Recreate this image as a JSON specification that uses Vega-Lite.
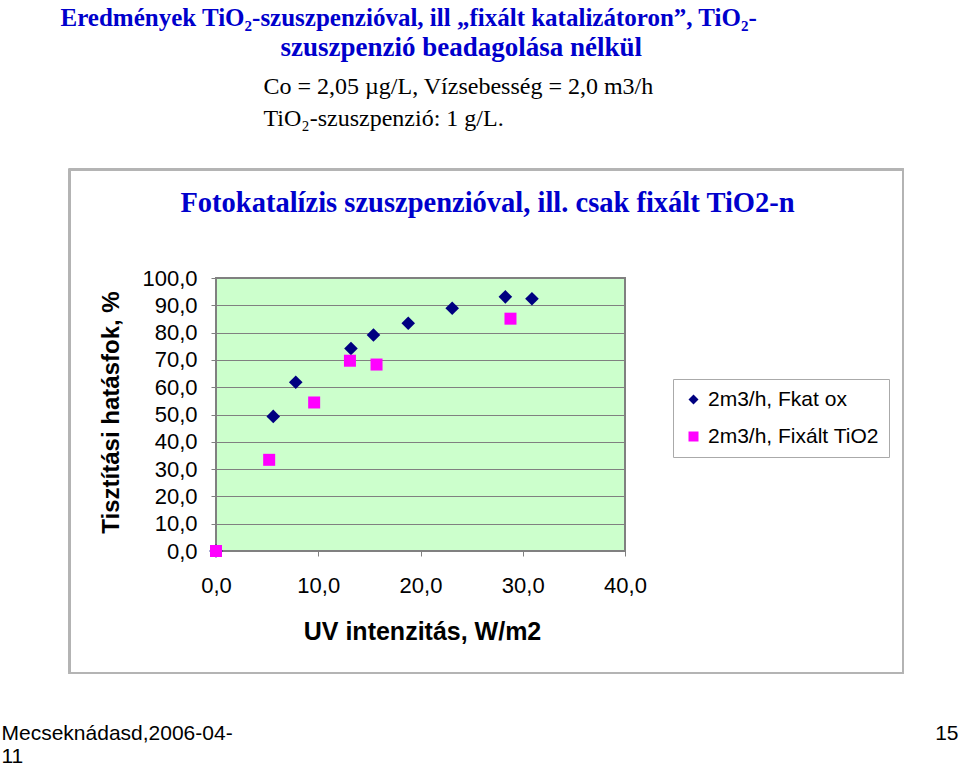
{
  "$schema": "https://vega.github.io/schema/vega-lite/v6.json",
  "autosize": {"type": "none"},
  "padding": {"left": 216, "top": 278, "right": 334, "bottom": 214},
  "width": 409,
  "height": 273,
  "background": "white",
  "view": {"fill": "#CCFFCC", "stroke": null},
  "data": {
    "values": [
      {"series": "2m3/h, Fkat ox", "uv": 0, "eff": 0},
      {"series": "2m3/h, Fkat ox", "uv": 5.6, "eff": 49.3},
      {"series": "2m3/h, Fkat ox", "uv": 7.8, "eff": 61.8},
      {"series": "2m3/h, Fkat ox", "uv": 13.2, "eff": 74.2},
      {"series": "2m3/h, Fkat ox", "uv": 15.4, "eff": 79.1},
      {"series": "2m3/h, Fkat ox", "uv": 18.8, "eff": 83.4},
      {"series": "2m3/h, Fkat ox", "uv": 23.1, "eff": 88.9},
      {"series": "2m3/h, Fkat ox", "uv": 28.3, "eff": 93.1},
      {"series": "2m3/h, Fkat ox", "uv": 30.9, "eff": 92.4},
      {"series": "2m3/h, Fixált TiO2", "uv": 0, "eff": 0},
      {"series": "2m3/h, Fixált TiO2", "uv": 5.2, "eff": 33.4},
      {"series": "2m3/h, Fixált TiO2", "uv": 9.6, "eff": 54.4},
      {"series": "2m3/h, Fixált TiO2", "uv": 13.1, "eff": 69.7},
      {"series": "2m3/h, Fixált TiO2", "uv": 15.7, "eff": 68.3},
      {"series": "2m3/h, Fixált TiO2", "uv": 28.8, "eff": 85.1}
    ]
  },
  "resolve": {"axis": {"x": "independent", "y": "independent"}},
  "layer": [
    {
      "mark": {"type": "rect", "filled": false, "stroke": "#b4b4b4", "strokeWidth": 1.5},
      "encoding": {
        "x": {"datum": -14.33, "type": "quantitative", "scale": {"domain": [0, 40], "nice": false, "zero": false},
          "axis": {"orient": "top", "title": "Eredmények TiO₂-szuszpenzióval, ill „fixált katalizátoron”, TiO₂-",
            "titleX": -156, "titleY": -253, "titleAlign": "left", "titleBaseline": "alphabetic", "titleAngle": 0,
            "titleFont": "Liberation Serif", "titleFontSize": 25, "titleFontWeight": "bold", "titleColor": "#0000CC"}},
        "x2": {"datum": 67.19},
        "y": {"datum": 139.74, "type": "quantitative", "scale": {"domain": [0, 100], "nice": false, "zero": false},
          "axis": {"orient": "left", "title": "szuszpenzió beadagolása nélkül",
            "titleX": 64, "titleY": -223, "titleAlign": "left", "titleBaseline": "alphabetic", "titleAngle": 0,
            "titleFont": "Liberation Serif", "titleFontSize": 27, "titleFontWeight": "bold", "titleColor": "#0000CC"}},
        "y2": {"datum": -44.69}
      }
    },
    {
      "mark": {"type": "rect", "filled": false, "stroke": "#808080", "strokeWidth": 2},
      "encoding": {
        "x": {"datum": 0, "type": "quantitative", "scale": {"domain": [0, 40], "nice": false, "zero": false},
          "axis": {"orient": "top", "title": ["Co = 2,05 µg/L, Vízsebesség = 2,0 m3/h", "TiO₂-szuszpenzió: 1 g/L."],
            "titleX": 47, "titleY": -185, "titleAlign": "left", "titleBaseline": "alphabetic", "titleAngle": 0, "titleLineHeight": 32,
            "titleFont": "Liberation Serif", "titleFontSize": 24, "titleFontWeight": "normal", "titleColor": "black"}},
        "x2": {"datum": 40},
        "y": {"datum": 0, "type": "quantitative", "scale": {"domain": [0, 100], "nice": false, "zero": false},
          "axis": {"orient": "right", "title": "15",
            "titleX": 333, "titleY": 461, "titleAlign": "right", "titleBaseline": "alphabetic", "titleAngle": 0,
            "titleFont": "Liberation Sans", "titleFontSize": 21, "titleFontWeight": "normal", "titleColor": "black"}},
        "y2": {"datum": 100}
      }
    },
    {
      "transform": [{"filter": "datum.series === '2m3/h, Fkat ox'"}],
      "mark": {"type": "point", "filled": true, "opacity": 1, "size": 185},
      "encoding": {
        "x": {"field": "uv", "type": "quantitative", "scale": {"domain": [0, 40], "nice": false, "zero": false},
          "axis": {"orient": "bottom", "values": [0, 10, 20, 30, 40], "labels": true, "ticks": true, "tickSize": 5, "tickColor": "#808080",
            "labelExpr": "replace(format(datum.value, '.1f'), '.', ',')", "labelFont": "Liberation Sans", "labelFontSize": 22, "labelColor": "black",
            "labelPadding": 19, "labelFlush": false, "labelOverlap": false,
            "title": "UV intenzitás, W/m2", "titleX": 206, "titleY": 88, "titleAlign": "center", "titleBaseline": "alphabetic", "titleAngle": 0,
            "titleFont": "Liberation Sans", "titleFontSize": 25, "titleFontWeight": "bold", "titleColor": "black"}},
        "y": {"field": "eff", "type": "quantitative", "scale": {"domain": [0, 100], "nice": false, "zero": false},
          "axis": {"orient": "left", "values": [0, 10, 20, 30, 40, 50, 60, 70, 80, 90, 100], "labels": true, "ticks": true, "tickSize": 5, "tickColor": "#808080",
            "grid": true, "gridColor": "#808080", "gridWidth": 1,
            "labelExpr": "replace(format(datum.value, '.1f'), '.', ',')", "labelFont": "Liberation Sans", "labelFontSize": 22, "labelColor": "black",
            "labelPadding": 14, "labelOverlap": false,
            "title": "Tisztítási hatásfok, %", "titleX": -98, "titleY": 134, "titleAlign": "center", "titleBaseline": "alphabetic", "titleAngle": -90,
            "titleFont": "Liberation Sans", "titleFontSize": 24, "titleFontWeight": "bold", "titleColor": "black"}},
        "color": {"field": "series", "type": "nominal", "scale": {"domain": ["2m3/h, Fkat ox", "2m3/h, Fixált TiO2"], "range": ["#000080", "#FF00FF"]}, "legend": {"title": null}},
        "shape": {"field": "series", "type": "nominal", "scale": {"domain": ["2m3/h, Fkat ox", "2m3/h, Fixált TiO2"], "range": ["diamond", "square"]}, "legend": {"title": null}}
      }
    },
    {
      "transform": [{"filter": "datum.series === '2m3/h, Fixált TiO2'"}],
      "mark": {"type": "point", "filled": true, "opacity": 1, "size": 144},
      "encoding": {
        "x": {"field": "uv", "type": "quantitative", "scale": {"domain": [0, 40], "nice": false, "zero": false},
          "axis": {"orient": "top", "title": "Fotokatalízis szuszpenzióval, ill. csak fixált TiO2-n",
            "titleX": 271, "titleY": -67, "titleAlign": "center", "titleBaseline": "alphabetic", "titleAngle": 0,
            "titleFont": "Liberation Serif", "titleFontSize": 28.5, "titleFontWeight": "bold", "titleColor": "#0000CC"}},
        "y": {"field": "eff", "type": "quantitative", "scale": {"domain": [0, 100], "nice": false, "zero": false},
          "axis": {"orient": "right", "title": ["Mecseknádasd,2006-04-", "11"],
            "titleX": -624, "titleY": 461, "titleAlign": "left", "titleBaseline": "alphabetic", "titleAngle": 0, "titleLineHeight": 23,
            "titleFont": "Liberation Sans", "titleFontSize": 21, "titleFontWeight": "normal", "titleColor": "black"}},
        "color": {"field": "series", "type": "nominal", "scale": {"domain": ["2m3/h, Fkat ox", "2m3/h, Fixált TiO2"], "range": ["#000080", "#FF00FF"]}, "legend": {"title": null}},
        "shape": {"field": "series", "type": "nominal", "scale": {"domain": ["2m3/h, Fkat ox", "2m3/h, Fixált TiO2"], "range": ["diamond", "square"]}, "legend": {"title": null}}
      }
    }
  ],
  "config": {
    "axis": {"grid": false, "domain": false, "ticks": false, "labels": false, "titleLimit": 1000, "labelLimit": 1000},
    "legend": {
      "orient": "none", "legendX": 457, "legendY": 101,
      "strokeColor": "#aaaaaa", "fillColor": "white", "padding": 10,
      "labelFont": "Liberation Sans", "labelFontSize": 21, "labelColor": "black", "labelLimit": 1000,
      "rowPadding": 15, "symbolSize": 100, "labelOffset": 4, "symbolStrokeWidth": 0
    }
  }
}
